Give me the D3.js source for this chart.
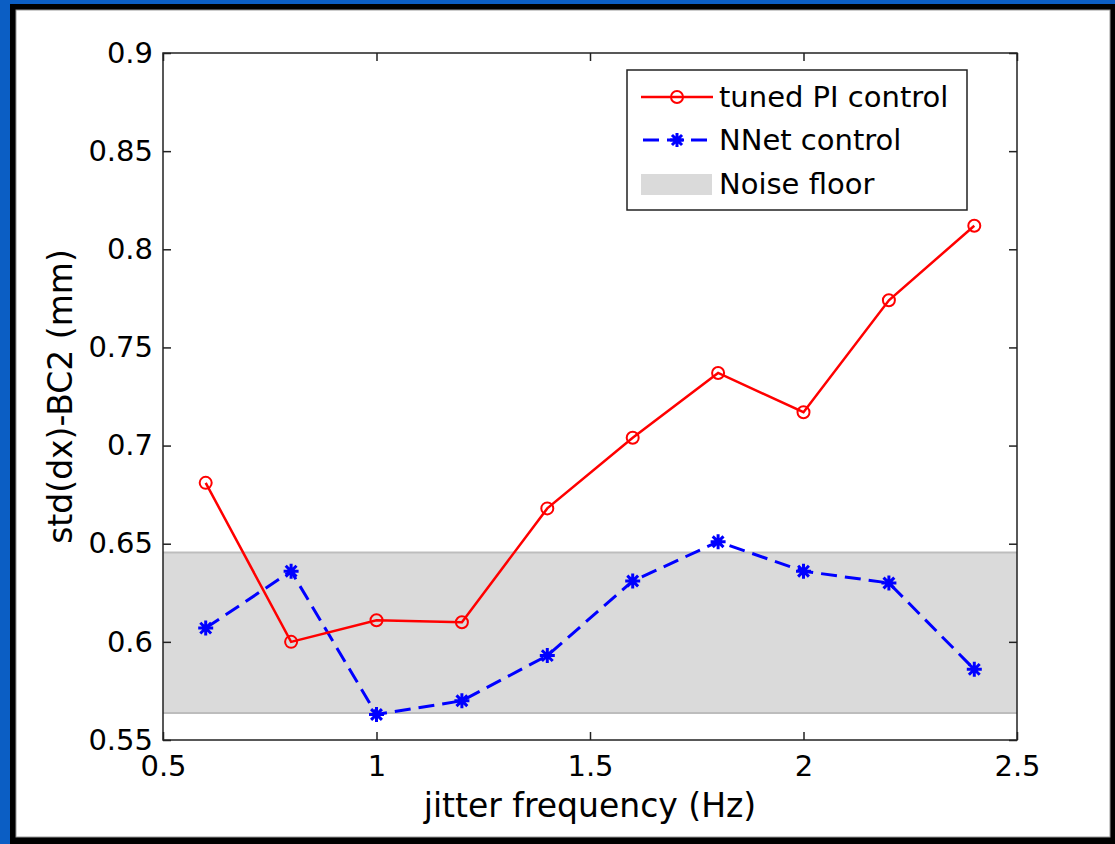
<!DOCTYPE html>
<html>
<head>
<meta charset="utf-8">
<script src="https://cdn.jsdelivr.net/npm/d3@7"></script>
<style>
  body { margin: 0; background: #0b5ec4; }
  text { font-family: "DejaVu Sans", sans-serif; fill: #000; }
</style>
</head>
<body>
<script>
"use strict";
// values
const freq = [0.6, 0.8, 1.0, 1.2, 1.4, 1.6, 1.8, 2.0, 2.2, 2.4]
const piValues = [0.681, 0.600, 0.611, 0.610, 0.668, 0.704, 0.737, 0.717, 0.774, 0.812]
const nnetValues = [0.607, 0.636, 0.563, 0.570, 0.593, 0.631, 0.651, 0.636, 0.630, 0.586]
const noiseFloor = [0.5638, 0.6455]
const xTicks = [0.5, 1, 1.5, 2, 2.5]
const yTicks = [0.55, 0.6, 0.65, 0.7, 0.75, 0.8, 0.85, 0.9]
const legendNames = ["tuned PI control", "NNet control", "Noise floor"]

const measurements = {
    width: 1115,
    height: 844,
    left: 163,
    right: 1017,
    top: 53,
    bottom: 740
}

const svg = d3.select("body").append("svg")
    .attr("width", measurements.width)
    .attr("height", measurements.height)
    .style("display", "block")

// frame: blue, black, white
svg.append("rect").attr("width", measurements.width).attr("height", measurements.height).attr("fill", "#0b5ec4")
svg.append("rect").attr("x", 10).attr("y", 4).attr("width", 1105).attr("height", 840).attr("fill", "#000")
svg.append("rect").attr("x", 16).attr("y", 10).attr("width", 1094).attr("height", 827)
    .attr("fill", "#fff").attr("stroke", "#999").attr("stroke-width", 1)

const x = d3.scaleLinear().domain([0.5, 2.5]).range([measurements.left, measurements.right])
const y = d3.scaleLinear().domain([0.55, 0.9]).range([measurements.bottom, measurements.top])

// noise floor band
svg.append("rect")
    .attr("x", x(0.5)).attr("width", x(2.5) - x(0.5))
    .attr("y", y(noiseFloor[1])).attr("height", y(noiseFloor[0]) - y(noiseFloor[1]))
    .attr("fill", "#dadada")
svg.selectAll(".nf-edge").data(noiseFloor).enter().append("line")
    .attr("x1", x(0.5)).attr("x2", x(2.5))
    .attr("y1", d => y(d)).attr("y2", d => y(d))
    .attr("stroke", "#bdbdbd").attr("stroke-width", 2)

// axes, ticks inward on all four sides
function styleAxis(g) {
    g.select(".domain").remove()
    g.selectAll(".tick line").attr("stroke", "#222").attr("stroke-width", 1.5)
    g.selectAll(".tick text").style("font-size", "29px").attr("fill", "#000")
}
const fmt = d3.format("")
svg.append("g").attr("transform", `translate(0,${measurements.bottom})`)
    .call(d3.axisBottom(x).tickValues(xTicks).tickFormat(fmt).tickSizeInner(-8).tickPadding(15))
    .call(styleAxis)
    .selectAll(".tick text").attr("dy", "0.71em")
svg.append("g").attr("transform", `translate(0,${measurements.top})`)
    .call(d3.axisTop(x).tickValues(xTicks).tickFormat("").tickSizeInner(-8))
    .call(styleAxis)
svg.append("g").attr("transform", `translate(${measurements.left},0)`)
    .call(d3.axisLeft(y).tickValues(yTicks).tickFormat(fmt).tickSizeInner(-8).tickPadding(10))
    .call(styleAxis)
svg.append("g").attr("transform", `translate(${measurements.right},0)`)
    .call(d3.axisRight(y).tickValues(yTicks).tickFormat("").tickSizeInner(-8))
    .call(styleAxis)
svg.append("rect")
    .attr("x", measurements.left).attr("y", measurements.top)
    .attr("width", measurements.right - measurements.left)
    .attr("height", measurements.bottom - measurements.top)
    .attr("fill", "none").attr("stroke", "#222").attr("stroke-width", 1.5)

// axis labels
svg.append("text")
    .attr("x", (measurements.left + measurements.right) / 2).attr("y", 817)
    .attr("text-anchor", "middle").style("font-size", "33px")
    .text("jitter frequency (Hz)")
svg.append("text")
    .attr("transform", `translate(72,${(measurements.top + measurements.bottom) / 2}) rotate(-90)`)
    .attr("text-anchor", "middle").style("font-size", "33px")
    .text("std(dx)-BC2 (mm)")

// matlab style asterisk: plus and cross
const asterisk = {
    draw(context, size) {
        const r = Math.sqrt(size) / 2
        const d = r * 0.72
        context.moveTo(-r, 0); context.lineTo(r, 0)
        context.moveTo(0, -r); context.lineTo(0, r)
        context.moveTo(-d, -d); context.lineTo(d, d)
        context.moveTo(-d, d); context.lineTo(d, -d)
    }
}

const line = d3.line().x(d => x(d[0])).y(d => y(d[1]))
const piData = freq.map((f, i) => [f, piValues[i]])
const nnetData = freq.map((f, i) => [f, nnetValues[i]])

// NNet control
svg.append("path").datum(nnetData).attr("d", line)
    .attr("fill", "none").attr("stroke", "#0000ff").attr("stroke-width", 3)
    .attr("stroke-dasharray", "16,8")
svg.selectAll(".star").data(nnetData).enter().append("path")
    .attr("transform", d => `translate(${x(d[0])},${y(d[1])})`)
    .attr("d", d3.symbol().type(asterisk).size(225))
    .attr("fill", "none").attr("stroke", "#0000ff").attr("stroke-width", 3)

// tuned PI control
svg.append("path").datum(piData).attr("d", line)
    .attr("fill", "none").attr("stroke", "#ff0000").attr("stroke-width", 2.5)
svg.selectAll(".ring").data(piData).enter().append("circle")
    .attr("cx", d => x(d[0])).attr("cy", d => y(d[1])).attr("r", 6)
    .attr("fill", "none").attr("stroke", "#ff0000").attr("stroke-width", 2)

// legend
const legend = svg.append("g")
legend.append("rect").attr("x", 627).attr("y", 70).attr("width", 340).attr("height", 140)
    .attr("fill", "#fff").attr("stroke", "#222").attr("stroke-width", 1.5)
const rowY = [97, 140, 184]
legend.append("line").attr("x1", 641).attr("x2", 713).attr("y1", rowY[0]).attr("y2", rowY[0])
    .attr("stroke", "#ff0000").attr("stroke-width", 2.5)
legend.append("circle").attr("cx", 677).attr("cy", rowY[0]).attr("r", 6)
    .attr("fill", "none").attr("stroke", "#ff0000").attr("stroke-width", 2)
legend.append("line").attr("x1", 643).attr("x2", 713).attr("y1", rowY[1]).attr("y2", rowY[1])
    .attr("stroke", "#0000ff").attr("stroke-width", 3).attr("stroke-dasharray", "16,8")
legend.append("path").attr("transform", `translate(677,${rowY[1]})`)
    .attr("d", d3.symbol().type(asterisk).size(196))
    .attr("fill", "none").attr("stroke", "#0000ff").attr("stroke-width", 3)
legend.append("rect").attr("x", 641).attr("y", rowY[2] - 10).attr("width", 71).attr("height", 21)
    .attr("fill", "#dadada")
legend.selectAll(".lbl").data(legendNames).enter().append("text")
    .attr("x", 719).attr("y", (d, i) => rowY[i]).attr("dy", "0.36em")
    .style("font-size", "29px")
    .text(d => d)
</script>
</body>
</html>
